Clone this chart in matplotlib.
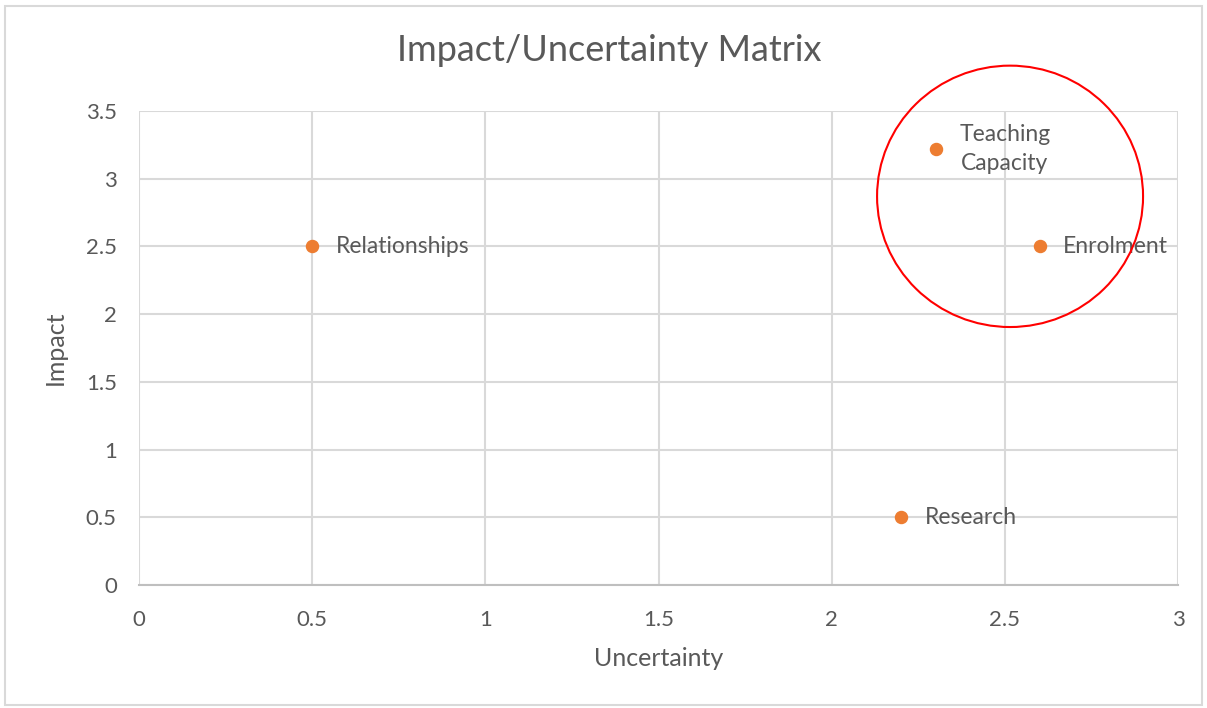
import matplotlib.pyplot as plt
from matplotlib.patches import Ellipse, Rectangle

# data
names = ['Relationships', 'Teaching\nCapacity', 'Enrolment', 'Research']
uncertainty = [0.5, 2.3, 2.6, 2.2]
impact = [2.5, 3.22, 2.5, 0.5]

x_ticks = [0, 0.5, 1, 1.5, 2, 2.5, 3]
y_ticks = [0, 0.5, 1, 1.5, 2, 2.5, 3, 3.5]

text_col = '#595959'
grid_col = '#d9d9d9'

plt.rcParams['font.family'] = ['Lato', 'DejaVu Sans']

fig = plt.figure(figsize=(12.07, 7.08), dpi=100)
fig.patches.append(Rectangle((0.004, 0.004), 0.992, 0.987, transform=fig.transFigure,
                             fill=False, edgecolor='#d9d9d9', lw=1.5))
ax = fig.add_axes([0.1152, 0.1737, 0.8608, 0.6695])

ax.scatter(uncertainty, impact, s=75, color='#ED7D31', zorder=3, clip_on=False)
for name, x, y in zip(names, uncertainty, impact):
    ax.annotate(name, (x, y), xytext=(17, 0), textcoords='offset points',
                ha='left', va='center', multialignment='center', linespacing=1.45,
                fontsize=16.5, color=text_col)

# highlight circle
ax.add_patch(Ellipse((2.515, 2.87), 0.768, 1.93, fill=False, edgecolor='red',
                     lw=1.5, clip_on=False, zorder=4))

ax.set_xlim(0, 3)
ax.set_ylim(0, 3.5)
ax.set_xticks(x_ticks)
ax.set_yticks(y_ticks)
ax.set_xticklabels([f'{t:g}' for t in x_ticks])
ax.set_yticklabels([f'{t:g}' for t in y_ticks])
ax.grid(True, color=grid_col, lw=1.5)
ax.set_axisbelow(True)
for side in ['top', 'right', 'left']:
    ax.spines[side].set_visible(False)
ax.spines['bottom'].set_color('#bfbfbf')
ax.spines['bottom'].set_linewidth(1.5)
ax.tick_params(length=0, labelsize=16, labelcolor=text_col)
ax.tick_params(axis='x', pad=18)
ax.tick_params(axis='y', pad=16)

ax.set_xlabel('Uncertainty', fontsize=18, color=text_col, labelpad=12)
ax.set_ylabel('Impact', fontsize=18, color=text_col, labelpad=14)
fig.text(0.505, 0.928, 'Impact/Uncertainty Matrix', ha='center', va='center',
         fontsize=26, color=text_col)

fig.savefig('out.png', dpi=100, facecolor='white')
